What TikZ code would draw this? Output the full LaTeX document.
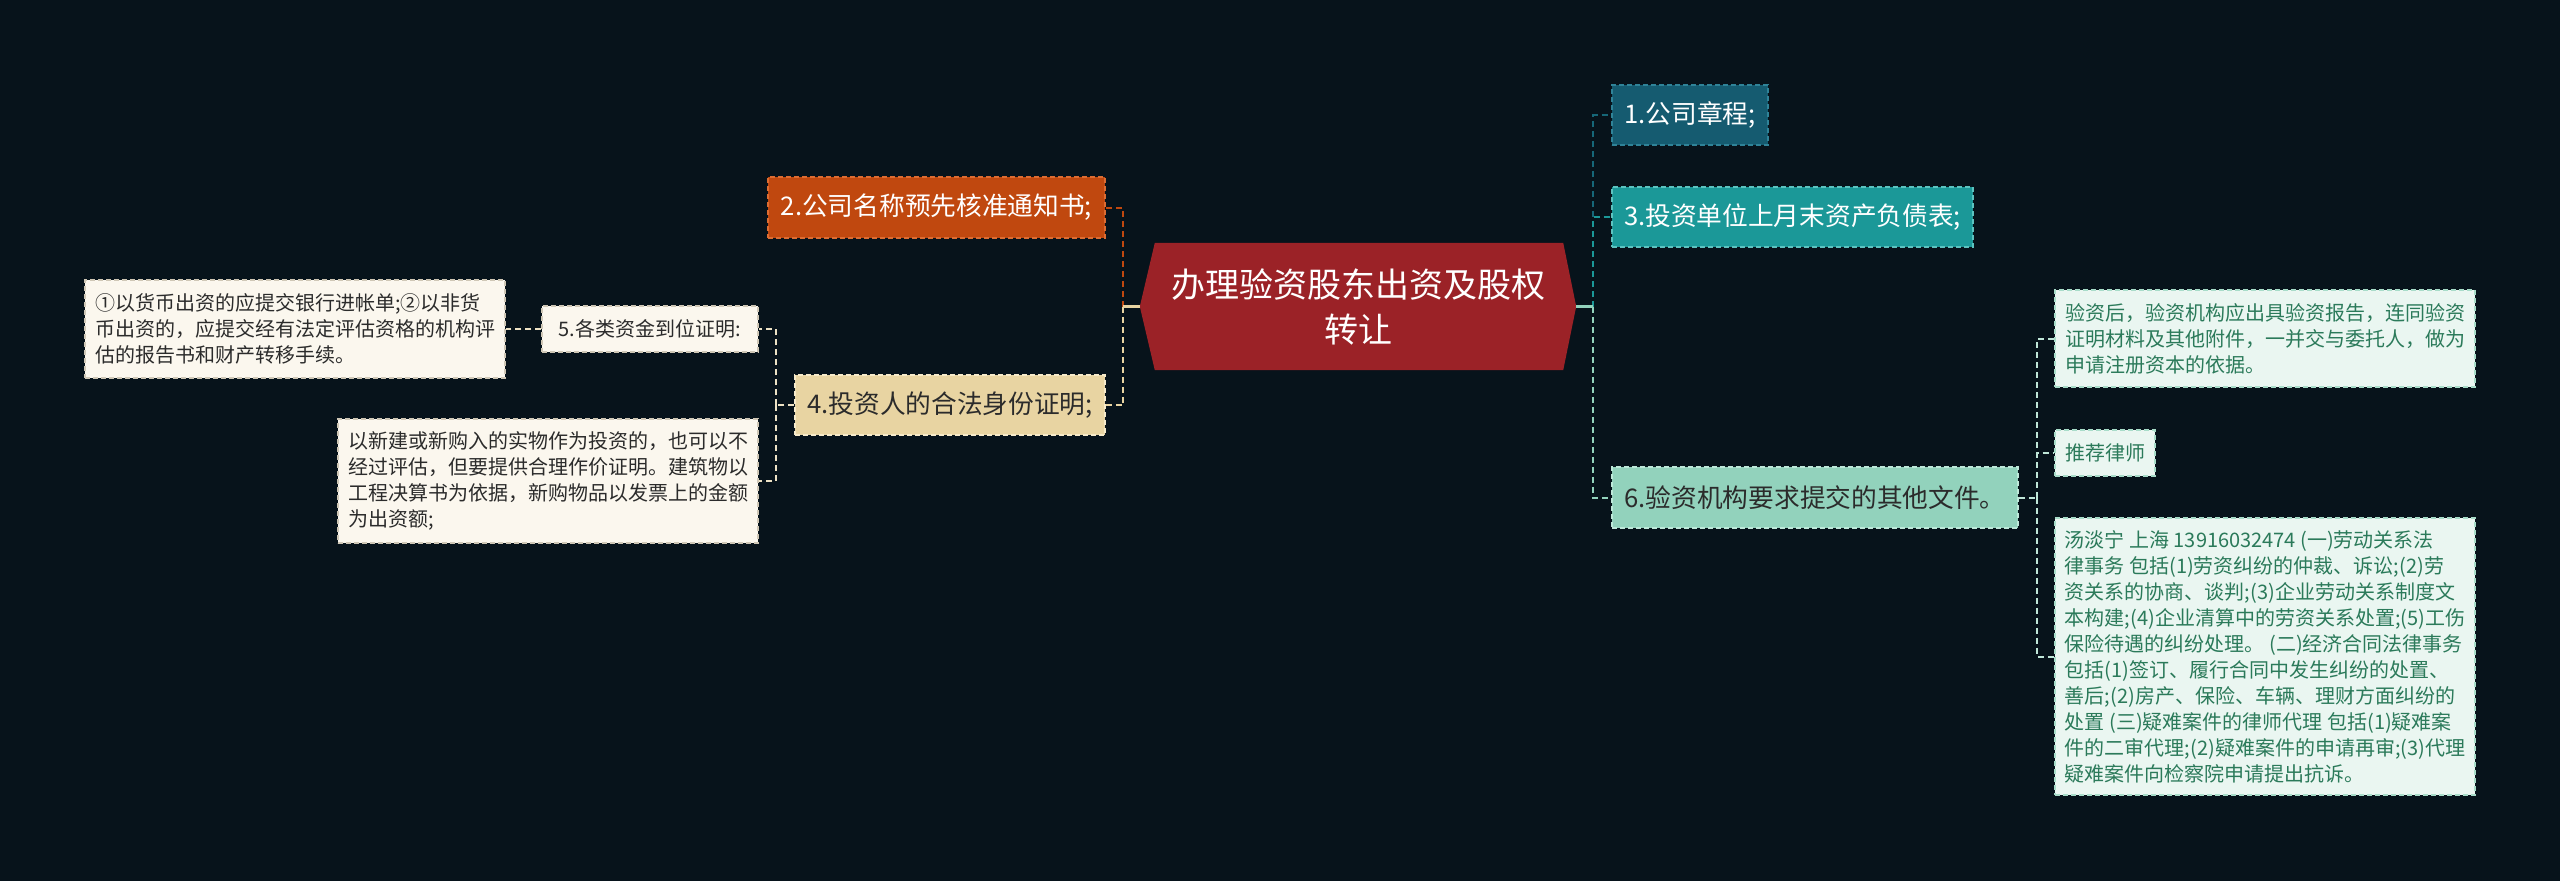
\documentclass[tikz,border=0pt]{standalone}
\usepackage{fontspec}
\setmainfont{Noto Sans CJK SC}
\usetikzlibrary{backgrounds}
\definecolor{bgc}{HTML}{07131B}
\definecolor{rootc}{HTML}{9B2227}
\definecolor{orangec}{HTML}{C0480F}
\definecolor{orangeb}{HTML}{DC6C32}
\definecolor{beigec}{HTML}{E8D4A2}
\definecolor{beigeb}{HTML}{F6EACA}
\definecolor{creamc}{HTML}{FBF7EE}
\definecolor{creamb}{HTML}{CFC7B6}
\definecolor{creaml}{HTML}{ECE1C4}
\definecolor{darktc}{HTML}{155B70}
\definecolor{darktb}{HTML}{2F8398}
\definecolor{tealc}{HTML}{1B9898}
\definecolor{tealb}{HTML}{5CC3C0}
\definecolor{mintc}{HTML}{92D2BC}
\definecolor{mintb}{HTML}{BDE8D9}
\definecolor{palec}{HTML}{EAF6F1}
\definecolor{paleb}{HTML}{A8DCC9}
\definecolor{palel}{HTML}{BFE6D8}
\definecolor{greent}{HTML}{2B7A5A}
\definecolor{darktext}{HTML}{2B2B2B}
\begin{document}
\begin{tikzpicture}[x=1pt,y=-1pt,
  box/.style={rectangle, draw, dash pattern=on 5pt off 3pt, line width=1.5pt, inner xsep=4pt, inner ysep=3pt},
  lvl/.style={box, font=\fontsize{25.7}{32}\selectfont},
  leaf/.style={box, font=\fontsize{20}{26}\selectfont, align=left},
  link/.style={line width=2pt, dash pattern=on 6pt off 4pt},
  stub/.style={line width=2.5pt},
  rootn/.style={font=\fontsize{34}{45}\selectfont, text=white, align=center, minimum width=436pt, minimum height=127pt, inner sep=0pt},
]
\useasboundingbox (0,0) rectangle (2560,881);
\begin{scope}[on background layer]
\fill[bgc] (0,0) rectangle (2560,881);
\end{scope}

% root
\node[rootn] (root) at (1358,306.5) {办理验资股东出资及股权\\转让};
\begin{scope}[on background layer]
\fill[rootc] (root.west) -- ([xshift=15pt]root.north west) -- ([xshift=-13pt]root.north east) -- (root.east) -- ([xshift=-13pt]root.south east) -- ([xshift=15pt]root.south west) -- cycle;
\end{scope}

% left level 1
\node[lvl, fill=orangec, draw=orangeb, text=white, minimum width=337pt, minimum height=61pt] (n2) at (936.5,207.5) {2.公司名称预先核准通知书;};
\node[lvl, fill=beigec, draw=beigeb, text=darktext, minimum width=310pt, minimum height=60pt] (n4) at (950,405) {4.投资人的合法身份证明;};

% left level 2/3
\node[leaf, fill=creamc, draw=creamb, text=darktext, minimum width=216pt, minimum height=46pt] (n5) at (650,329) {5.各类资金到位证明:};
\node[leaf, fill=creamc, draw=creamb, text=darktext, minimum width=420pt, minimum height=98pt] (nA) at (295,329) {①以货币出资的应提交银行进帐单;②以非货\\币出资的，应提交经有法定评估资格的机构评\\估的报告书和财产转移手续。};
\node[leaf, fill=creamc, draw=creamb, text=darktext, minimum width=420pt, minimum height=124pt] (nB) at (548,481) {以新建或新购入的实物作为投资的，也可以不\\经过评估，但要提供合理作价证明。建筑物以\\工程决算书为依据，新购物品以发票上的金额\\为出资额;};

% right level 1
\node[lvl, fill=darktc, draw=darktb, text=white, minimum width=156pt, minimum height=60pt] (n1) at (1690,115) {1.公司章程;};
\node[lvl, fill=tealc, draw=tealb, text=white, minimum width=361pt, minimum height=60pt] (n3) at (1792.5,217) {3.投资单位上月末资产负债表;};
\node[lvl, fill=mintc, draw=mintb, text=darktext, minimum width=406pt, minimum height=61pt] (n6) at (1815,497.5) {6.验资机构要求提交的其他文件。};

% right level 2
\node[leaf, fill=palec, draw=paleb, text=greent, minimum width=420pt, minimum height=97pt] (nC) at (2265,338.5) {验资后，验资机构应出具验资报告，连同验资\\证明材料及其他附件，一并交与委托人，做为\\申请注册资本的依据。};
\node[leaf, fill=palec, draw=paleb, text=greent, minimum width=100pt, minimum height=46pt] (nD) at (2105,453) {推荐律师};
\node[leaf, fill=palec, draw=paleb, text=greent, minimum width=420pt, minimum height=277pt] (nE) at (2265,656.5) {汤淡宁 上海 13916032474 (一)劳动关系法\\律事务 包括(1)劳资纠纷的仲裁、诉讼;(2)劳\\资关系的协商、谈判;(3)企业劳动关系制度文\\本构建;(4)企业清算中的劳资关系处置;(5)工伤\\保险待遇的纠纷处理。 (二)经济合同法律事务\\包括(1)签订、履行合同中发生纠纷的处置、\\善后;(2)房产、保险、车辆、理财方面纠纷的\\处置 (三)疑难案件的律师代理 包括(1)疑难案\\件的二审代理;(2)疑难案件的申请再审;(3)代理\\疑难案件向检察院申请提出抗诉。};

% connector junctions
\coordinate (Lbus) at (1123,306.5);
\coordinate (Rbus) at (1593,306.5);
\coordinate (B4) at (776,405);
\coordinate (B6) at (2037,497.5);

% left connectors
\draw[link, orangec] (Lbus) |- (n2.east);
\draw[link, beigec] (Lbus) |- (n4.east);
\draw[stub, beigec] (root.west) -- (Lbus);
\draw[link, creaml] (n4.west) -- (B4);
\draw[link, creaml] (B4) |- (n5.east);
\draw[link, creaml] (B4) |- (nB.east);
\draw[link, creaml] (n5.west) -- (nA.east);

% right connectors
\draw[link, darktc!80!tealc] (Rbus) |- (n1.west);
\draw[link, tealc] (Rbus) |- (n3.west);
\draw[link, mintc] (Rbus) |- (n6.west);
\draw[stub, mintc] (root.east) -- (Rbus);
\draw[link, palel] (n6.east) -- (B6);
\draw[link, palel] (B6) |- (nC.west);
\draw[link, palel] (B6) |- (nD.west);
\draw[link, palel] (B6) |- (nE.west);
\end{tikzpicture}
\end{document}
